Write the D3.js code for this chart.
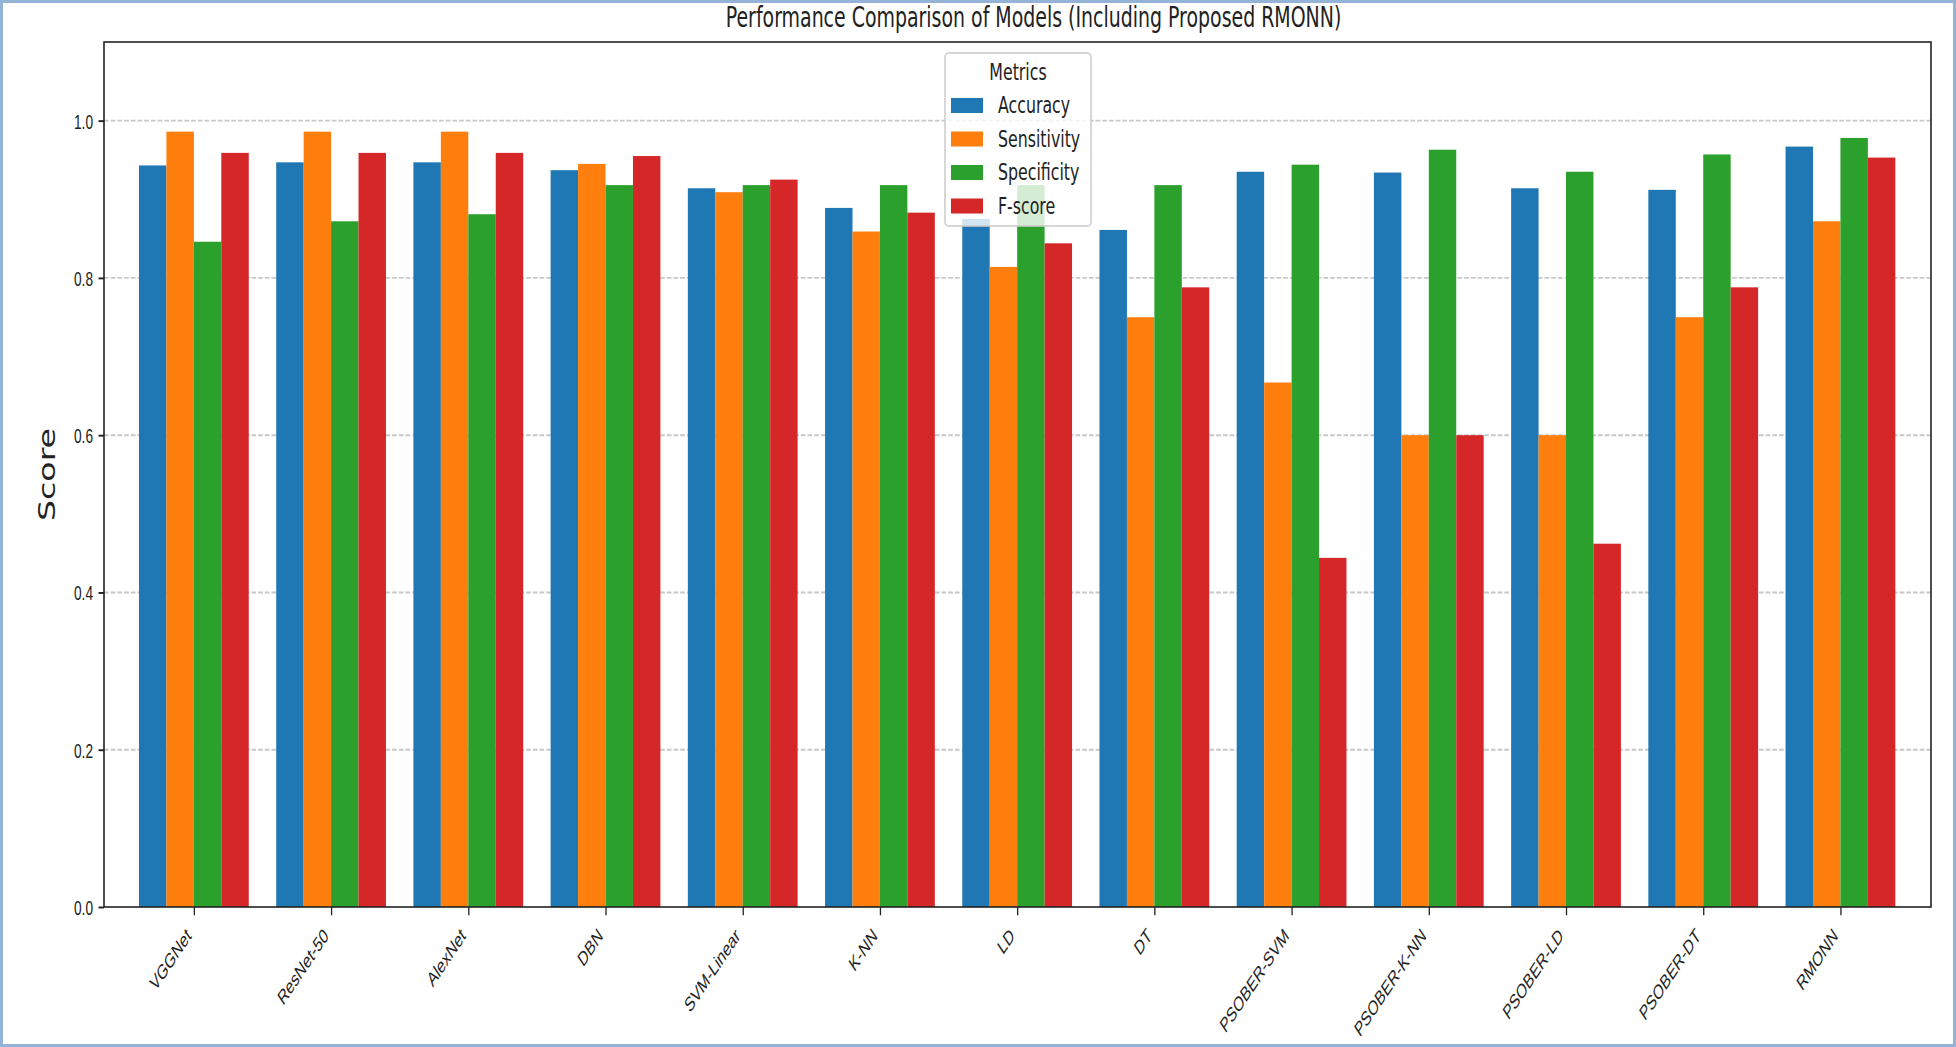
<!DOCTYPE html>
<html>
<head>
<meta charset="utf-8">
<script src="https://cdn.jsdelivr.net/npm/d3@7"></script>
<style>
  body { margin: 0; background: #fff; }
  svg { display: block; }
</style>
</head>
<body>
<svg id="chart"></svg>
<script>
    // data
    models = ["VGGNet","ResNet-50","AlexNet","DBN","SVM-Linear","K-NN","LD","DT",
              "PSOBER-SVM","PSOBER-K-NN","PSOBER-LD","PSOBER-DT","RMONN"];
    metrics = ["Accuracy","Sensitivity","Specificity","F-score"];
    accuracy    = [0.943,0.947,0.947,0.937,0.914,0.889,0.875,0.861,0.935,0.934,0.914,0.912,0.967];
    sensitivity = [0.986,0.986,0.986,0.945,0.909,0.859,0.814,0.750,0.667,0.600,0.600,0.750,0.872];
    specificity = [0.846,0.872,0.881,0.918,0.918,0.918,0.918,0.918,0.944,0.963,0.935,0.957,0.978];
    fscore      = [0.959,0.959,0.959,0.955,0.925,0.883,0.844,0.788,0.444,0.600,0.462,0.788,0.953];
    series = [accuracy, sensitivity, specificity, fscore];
    yticks = [0,0.2,0.4,0.6,0.8,1.0];
    colors = ["#1f77b4","#ff7f0e","#2ca02c","#d62728"];

    W = 1956; H = 1047;
    L = 104; R = 1931; T = 42; B = 907;
    sx = 0.667;          // the picture is squeezed sideways
    fs = 23.7;           // legend text
    tfs = 20.5;          // tick labels
    barW = 0.2;

    svg = d3.select("#chart").attr("width", W).attr("height", H)
        .style("font-family", "'DejaVu Sans', sans-serif");

    svg.append("rect").attr("width", W).attr("height", H).attr("fill", "#fff");

    xs = d3.scaleLinear().domain([-0.655, 12.66]).range([L, R]);
    ys = d3.scaleLinear().domain([0, 1.1]).range([B, T]);

    //grid
    svg.append("g").selectAll("line").data(yticks.slice(1)).enter().append("line")
        .attr("x1", L).attr("x2", R)
        .attr("y1", d => ys(d)).attr("y2", d => ys(d))
        .attr("stroke", "#b0b0b0").attr("stroke-opacity", 0.7)
        .attr("stroke-width", 1.9).attr("stroke-dasharray", "4.7,2");

    //draw the bars
    series.forEach(function(vals, j) {
        svg.append("g").selectAll("rect").data(vals).enter().append("rect")
            .attr("x", (d, i) => xs(i + (j - 2) * barW))
            .attr("y", d => ys(d))
            .attr("width", xs(barW) - xs(0))
            .attr("height", d => ys(0) - ys(d))
            .attr("fill", colors[j]);
    });

    //frame
    svg.append("rect").attr("x", L).attr("y", T).attr("width", R - L).attr("height", B - T)
        .attr("fill", "none").attr("stroke", "#222").attr("stroke-width", 1.6);

    //draw the y axis
    gy = svg.append("g").attr("transform", `translate(${L},0)`)
        .call(d3.axisLeft(ys).tickValues(yticks).tickFormat(d3.format(".1f")).tickSize(5.5));
    gy.select(".domain").remove();
    gy.selectAll(".tick line").attr("stroke", "#222").attr("stroke-width", 1.9);
    gy.selectAll(".tick text")
        .attr("x", null).attr("dy", null)
        .attr("transform", `translate(-11,${0.36 * tfs}) scale(${sx},1)`)
        .attr("font-size", tfs).attr("fill", "#222").attr("text-anchor", "end");

    //draw the x axis
    gx = svg.append("g").attr("transform", `translate(0,${B})`)
        .call(d3.axisBottom(xs).tickValues(d3.range(models.length)).tickFormat(i => models[i]).tickSize(8.3));
    gx.select(".domain").remove();
    gx.selectAll(".tick line").attr("stroke", "#222").attr("stroke-width", 1.3);
    gx.selectAll(".tick text")
        .attr("y", null).attr("dy", null)
        .attr("transform", `translate(${-0.707 * 0.236 * tfs * sx},${16.6 + 0.707 * 0.93 * tfs}) scale(${sx},1) rotate(-45)`)
        .attr("font-size", tfs).attr("fill", "#222").attr("text-anchor", "end");

    //y label
    svg.append("text")
        .attr("transform", `translate(55,${(T + B) / 2}) scale(${sx},1) rotate(-90)`)
        .attr("text-anchor", "middle").attr("font-size", 33.2).attr("fill", "#222")
        .text("Score");

    //title
    svg.append("text")
        .attr("transform", `translate(${(L + R) / 2 + 16},27) scale(${sx},1)`)
        .attr("text-anchor", "middle").attr("font-size", 28.4).attr("fill", "#222")
        .text("Performance Comparison of Models (Including Proposed RMONN)");

    //legend
    lg = svg.append("g").attr("transform", "translate(945,53)");
    lg.append("rect").attr("width", 146).attr("height", 173).attr("rx", 4)
        .attr("fill", "#fff").attr("fill-opacity", 0.8)
        .attr("stroke", "#cccccc").attr("stroke-opacity", 0.8).attr("stroke-width", 1.9);
    lg.append("text")
        .attr("transform", `translate(73,27) scale(${sx},1)`)
        .attr("text-anchor", "middle").attr("font-size", fs).attr("fill", "#222")
        .text("Metrics");
    item = lg.selectAll("g.item").data(metrics).enter().append("g")
        .attr("transform", (d, i) => `translate(0,${60 + i * 33.5})`);
    item.append("rect").attr("x", 6).attr("y", -15).attr("width", 32).attr("height", 15)
        .attr("fill", (d, i) => colors[i]);
    item.append("text")
        .attr("transform", `translate(53,0) scale(${sx},1)`)
        .attr("font-size", fs).attr("fill", "#222")
        .text(d => d);

    //page border
    svg.append("rect").attr("x", 1.5).attr("y", 1.5).attr("width", W - 3).attr("height", H - 3)
        .attr("fill", "none").attr("stroke", "#95b3d7").attr("stroke-width", 3);
</script>
</body>
</html>
